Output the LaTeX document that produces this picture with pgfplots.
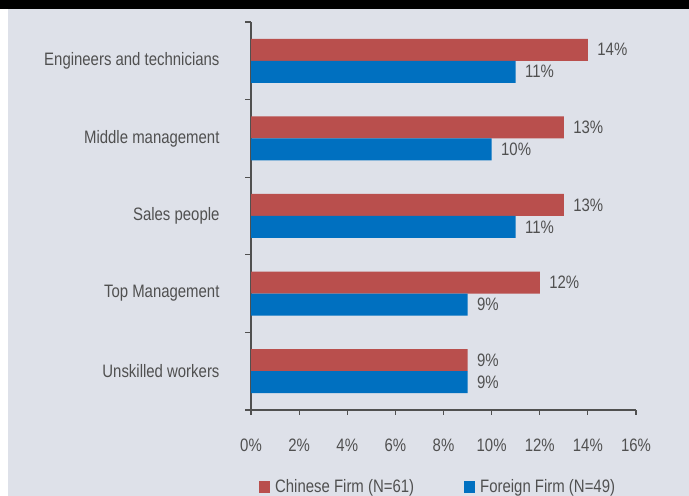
\documentclass[border=0pt]{standalone}
\usepackage{fontspec}
\setmainfont{Liberation Sans}[FakeStretch=0.83]
\usepackage{pgfplots}
\pgfplotsset{compat=1.18}
\definecolor{bg}{HTML}{DEE1E9}
\definecolor{redbar}{HTML}{B94F4D}
\definecolor{bluebar}{HTML}{0070C0}
\definecolor{txt}{HTML}{505050}
\newcommand\lf{\fontsize{18bp}{20bp}\selectfont}
\begin{document}
\begin{tikzpicture}[x=1bp,y=1bp]
\useasboundingbox (0,0) rectangle (689,496);
\fill[white] (0,0) rectangle (689,496);
\fill[bg] (8,0) rectangle (689,487);
\fill[black] (0,487) rectangle (689,496);
\begin{axis}[
  at={(251bp,86bp)}, anchor=south west,
  scale only axis, width=385bp, height=388bp,
  xmin=0, xmax=16, ymin=0, ymax=5,
  axis x line=bottom, axis y line=left,
  axis line style={txt, line width=1.2bp, -},
  xbar, bar width=22bp,
  xtick={0,2,...,16},
  xticklabels={0\%,2\%,4\%,6\%,8\%,10\%,12\%,14\%,16\%},
  ytick={0.5,1.5,2.5,3.5,4.5},
  yticklabels={Unskilled workers,Top Management,Sales people,Middle management,Engineers and technicians},
  minor ytick={0,1,2,3,4,5},
  tick align=outside,
  major x tick style={txt, line width=1.2bp},
  major tick length=5bp,
  major y tick style={draw=none},
  minor tick length=6bp,
  minor y tick style={txt, line width=1.2bp},
  ticklabel style={font=\lf, text=txt},
  xticklabel style={yshift=-20bp},
  yticklabel style={xshift=-23bp},
  /pgf/number format/assume math mode=true,
  nodes near coords={\pgfmathprintnumber{\pgfplotspointmeta}\%},
  point meta=x,
  nodes near coords style={font=\lf, text=txt, anchor=west, xshift=6bp},
  legend style={draw=none, fill=none, font=\lf, text=txt,
    at={(0.486,-0.198)}, anchor=center, legend columns=2,
    /tikz/every odd column/.append style={column sep=3bp},
    /tikz/every even column/.append style={column sep=48bp}},
  legend image code/.code={\fill[#1] (0bp,-6bp) rectangle (11bp,6bp);},
]
\addplot[fill=redbar, draw=none, bar shift=11bp] coordinates {
  (14,4.5) (13,3.5) (13,2.5) (12,1.5) (9,0.5)};
\addlegendentry{Chinese Firm (N=61)}
\addplot[fill=bluebar, draw=none, bar shift=-11bp] coordinates {
  (11,4.5) (10,3.5) (11,2.5) (9,1.5) (9,0.5)};
\addlegendentry{Foreign Firm (N=49)}
\end{axis}
\end{tikzpicture}
\end{document}
